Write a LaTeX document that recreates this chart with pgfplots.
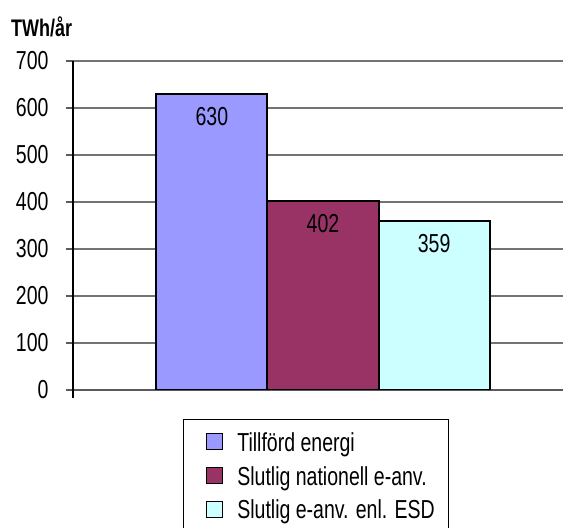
\documentclass[border=0pt]{standalone}
\usepackage{fontspec}
\setmainfont[FakeStretch=0.75]{Liberation Sans}
\usepackage{pgfplots}
\pgfplotsset{compat=1.18}
\definecolor{c1}{HTML}{9999FF}
\definecolor{c2}{HTML}{993366}
\definecolor{c3}{HTML}{CCFFFF}
\definecolor{gridc}{HTML}{808080}
\newcommand{\cf}{\fontsize{26bp}{30bp}\selectfont}
\begin{document}
\begin{tikzpicture}
\path[use as bounding box] (0,0) rectangle (563bp,528bp);
\begin{axis}[
  at={(73bp,138bp)}, anchor=south west,
  scale only axis, width=500bp, height=329bp,
  xmin=-2.25, xmax=2.25, ymin=0, ymax=700,
  ytick={0,100,...,700}, xtick=\empty,
  axis y line*=left, axis x line*=bottom,
  y axis line style={black, line width=1.1bp, -, shorten <=-8bp},
  x axis line style={draw=gridc!70!black, line width=1.8bp, -},
  ymajorgrids, grid style={gridc!90!black, line width=1.5bp},
  tick align=outside, major tick length=7bp,
  ytick style={gridc!70!black, line width=1.2bp},
  /pgf/number format/assume math mode=true,
  yticklabel style={font=\cf, text=black, xshift=-14bp},
  nodes near coords,
  nodes near coords style={anchor=north, yshift=-9bp, font=\cf, text=black},
  legend style={at={(0.22,-0.088)}, anchor=north west, draw=black, line width=0.8bp,
    inner xsep=12bp, inner ysep=11bp, row sep=9.5bp, font=\cf, cells={anchor=west}},
  legend cell align=left,
  legend image code/.code={\path (0bp,0bp); \draw[#1,draw=black,line width=0.6bp] (10bp,-7bp) rectangle (26bp,9bp); \path (38bp,0bp);},
]
\addplot[ybar, bar width=1, bar shift=0pt, fill=c1, draw=black, line width=2bp] coordinates {(-1,630)};
\addlegendentry{Tillförd energi}
\addplot[ybar, bar width=1, bar shift=0pt, fill=c2, draw=black, line width=2bp] coordinates {(0,402)};
\addlegendentry{Slutlig nationell e-anv.}
\addplot[ybar, bar width=1, bar shift=0pt, fill=c3, draw=black, line width=2bp] coordinates {(1,359)};
\addlegendentry{Slutlig e-anv. enl. ESD}
\end{axis}
\node[anchor=west, inner sep=0pt, font=\fontsize{24bp}{28bp}\selectfont\bfseries] at (11bp,501bp) {TWh/år};
\end{tikzpicture}
\end{document}
